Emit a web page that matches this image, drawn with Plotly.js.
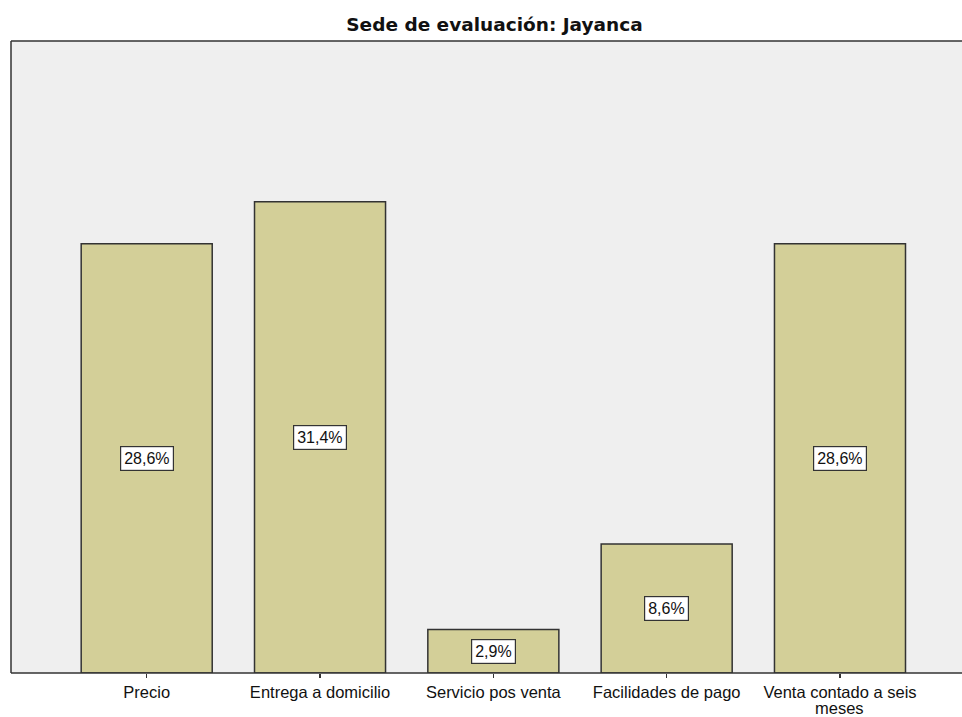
<!DOCTYPE html>
<html>
<head>
<meta charset="utf-8">
<script src="https://cdn.plot.ly/plotly-3.0.1.min.js"></script>
<style>
html,body{margin:0;padding:0;background:#fff;}
#chart{width:962px;height:717px;}
</style>
</head>
<body>
<div id="chart"></div>
<script>
const categories = ["Precio", "Entrega a domicilio", "Servicio pos venta", "Facilidades de pago", "Venta contado a seis meses"];
const tickLabels = ["Precio", "Entrega a domicilio", "Servicio pos venta", "Facilidades de pago", "Venta contado a seis"];
const tickSecondLines = ["", "", "", "", "meses"];
const percents = [28.6, 31.4, 2.9, 8.6, 28.6];
const chartTitle = "Sede de evaluación: Jayanca";

const fmt = v => v.toFixed(1).replace('.', ',') + '%';
const tickFont = { family: 'Liberation Sans, Arial, sans-serif', size: 16.5, color: '#111111' };

const trace = {
  type: 'bar',
  x: categories,
  y: percents,
  width: 0.756,
  marker: { color: '#d3cf98', line: { color: '#333333', width: 1.5 } },
  hoverinfo: 'none'
};

const valueLabels = categories.map((c, i) => ({
  x: c,
  y: percents[i] / 2,
  xref: 'x',
  yref: 'y',
  text: fmt(percents[i]),
  showarrow: false,
  bgcolor: '#ffffff',
  bordercolor: '#333333',
  borderwidth: 1.2,
  borderpad: 3,
  font: { family: 'Liberation Sans, Arial, sans-serif', size: 16, color: '#111111' }
}));

const secondLines = categories
  .map((c, i) => ({ c, t: tickSecondLines[i] }))
  .filter(o => o.t)
  .map(o => ({
    x: o.c,
    xref: 'x',
    yref: 'paper',
    y: -35 / 632,
    yanchor: 'middle',
    text: o.t,
    showarrow: false,
    font: tickFont
  }));

const line = (x0, y0, x1, y1) => ({
  type: 'line', xref: 'paper', yref: 'paper', x0, y0, x1, y1,
  line: { color: '#333333', width: 1.5 }, layer: 'above'
});

const layout = {
  width: 962,
  height: 717,
  margin: { l: 11, r: 0, t: 41, b: 44 },
  paper_bgcolor: '#ffffff',
  plot_bgcolor: '#efefef',
  showlegend: false,
  title: {
    text: chartTitle,
    font: { family: 'DejaVu Sans, sans-serif', size: 18.5, color: '#111111', weight: 'bold' },
    xref: 'container',
    yref: 'container',
    x: 494.5 / 962,
    xanchor: 'center',
    y: 1 - 25 / 717,
    yanchor: 'middle'
  },
  xaxis: {
    type: 'category',
    range: [-0.783, 4.704],
    tickvals: categories,
    ticktext: tickLabels,
    ticks: 'outside',
    ticklen: 4,
    tickwidth: 1.5,
    tickcolor: '#333333',
    showline: false,
    showgrid: false,
    zeroline: false,
    fixedrange: true,
    tickfont: tickFont
  },
  yaxis: {
    range: [0, 42.1],
    showline: false,
    showticklabels: false,
    ticks: '',
    showgrid: false,
    zeroline: false,
    fixedrange: true
  },
  shapes: [line(0, 0, 1, 0), line(0, 1, 1, 1), line(0, 0, 0, 1)],
  annotations: valueLabels.concat(secondLines)
};

Plotly.newPlot('chart', [trace], layout, { displayModeBar: false, staticPlot: true });
</script>
</body>
</html>
